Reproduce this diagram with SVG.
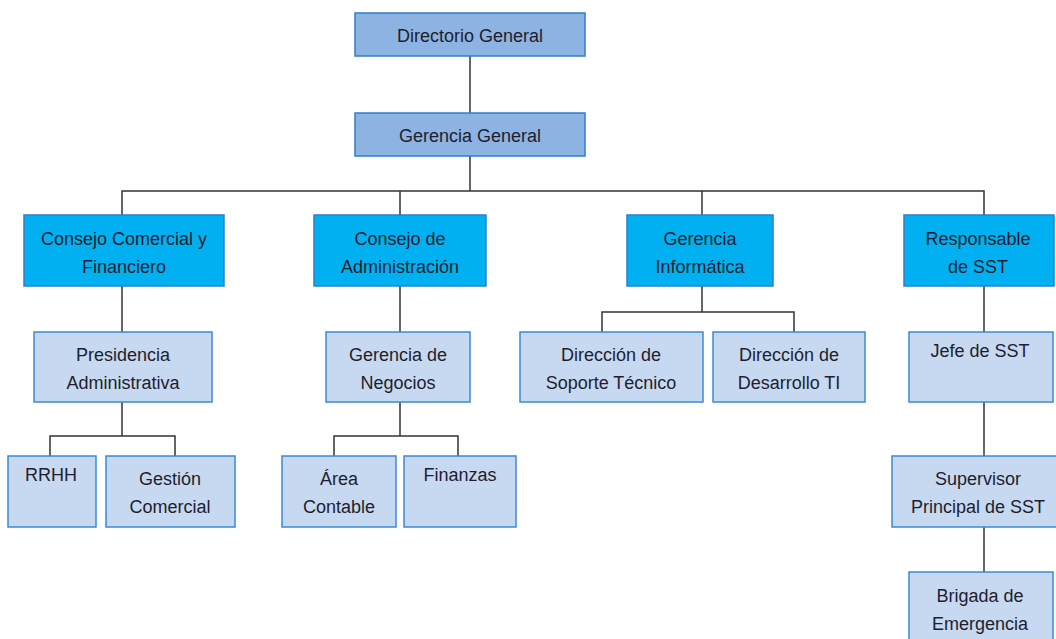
<svg xmlns="http://www.w3.org/2000/svg" width="1056" height="639" viewBox="0 0 1056 639">
<style>
  .l1 { fill: #8DB3E2; stroke: #2E7FCC; stroke-width: 1.5; }
  .l2 { fill: #00B0F0; stroke: #2E7FCC; stroke-width: 1.5; }
  .l3 { fill: #C6D9F1; stroke: #3A8AD6; stroke-width: 1.5; }
  text { font-family: "Liberation Sans", Arial, sans-serif; font-size: 18px; fill: #1E1E2E; text-anchor: middle; }
  #connectors path { fill: none; stroke: #333333; stroke-width: 1.5; }
</style>
<rect width="1056" height="639" fill="#FFFFFF"/>
<g id="connectors">
  <path d="M470 56 V113"/>
  <path d="M470 156 V191"/>
  <path d="M122 215 V191 H984 V215"/>
  <path d="M400 191 V215"/>
  <path d="M702 191 V215"/>
  <path d="M122 286 V332"/>
  <path d="M400 286 V332"/>
  <path d="M702 286 V312"/>
  <path d="M602 332 V312 H794 V332"/>
  <path d="M984 286 V332"/>
  <path d="M984 402 V456"/>
  <path d="M984 527 V572"/>
  <path d="M122 402 V436"/>
  <path d="M50 456 V436 H175 V456"/>
  <path d="M400 402 V436"/>
  <path d="M334 456 V436 H458 V456"/>
</g>
<g id="directorio-general">
  <rect class="l1" x="355" y="13" width="230" height="43"/>
  <text x="470" y="42">Directorio General</text>
</g>
<g id="gerencia-general">
  <rect class="l1" x="355" y="113" width="230" height="43"/>
  <text x="470" y="142">Gerencia General</text>
</g>
<g id="consejo-comercial">
  <rect class="l2" x="24" y="215" width="200" height="71"/>
  <text x="124" y="245">Consejo Comercial y</text>
  <text x="124" y="273">Financiero</text>
</g>
<g id="consejo-administracion">
  <rect class="l2" x="314" y="215" width="172" height="71"/>
  <text x="400" y="245">Consejo de</text>
  <text x="400" y="273">Administración</text>
</g>
<g id="gerencia-informatica">
  <rect class="l2" x="627" y="215" width="146" height="71"/>
  <text x="700" y="245">Gerencia</text>
  <text x="700" y="273">Informática</text>
</g>
<g id="responsable-sst">
  <rect class="l2" x="904" y="215" width="150" height="71"/>
  <text x="978" y="245">Responsable</text>
  <text x="978" y="273">de SST</text>
</g>
<g id="presidencia-administrativa">
  <rect class="l3" x="34" y="332" width="178" height="70"/>
  <text x="123" y="361">Presidencia</text>
  <text x="123" y="389">Administrativa</text>
</g>
<g id="gerencia-negocios">
  <rect class="l3" x="326" y="332" width="144" height="70"/>
  <text x="398" y="361">Gerencia de</text>
  <text x="398" y="389">Negocios</text>
</g>
<g id="direccion-soporte">
  <rect class="l3" x="520" y="332" width="183" height="70"/>
  <text x="611" y="361">Dirección de</text>
  <text x="611" y="389">Soporte Técnico</text>
</g>
<g id="direccion-desarrollo">
  <rect class="l3" x="713" y="332" width="152" height="70"/>
  <text x="789" y="361">Dirección de</text>
  <text x="789" y="389">Desarrollo TI</text>
</g>
<g id="jefe-sst">
  <rect class="l3" x="909" y="332" width="144" height="70"/>
  <text x="980" y="357">Jefe de SST</text>
</g>
<g id="rrhh">
  <rect class="l3" x="8" y="456" width="88" height="71"/>
  <text x="51" y="481">RRHH</text>
</g>
<g id="gestion-comercial">
  <rect class="l3" x="106" y="456" width="129" height="71"/>
  <text x="170" y="485">Gestión</text>
  <text x="170" y="513">Comercial</text>
</g>
<g id="area-contable">
  <rect class="l3" x="282" y="456" width="114" height="71"/>
  <text x="339" y="485">Área</text>
  <text x="339" y="513">Contable</text>
</g>
<g id="finanzas">
  <rect class="l3" x="404" y="456" width="112" height="71"/>
  <text x="460" y="481">Finanzas</text>
</g>
<g id="supervisor-principal">
  <rect class="l3" x="892" y="456" width="172" height="71"/>
  <text x="978" y="485">Supervisor</text>
  <text x="978" y="513">Principal de SST</text>
</g>
<g id="brigada-emergencia">
  <rect class="l3" x="909" y="572" width="144" height="80"/>
  <text x="980" y="602">Brigada de</text>
  <text x="980" y="630">Emergencia</text>
</g>
</svg>
